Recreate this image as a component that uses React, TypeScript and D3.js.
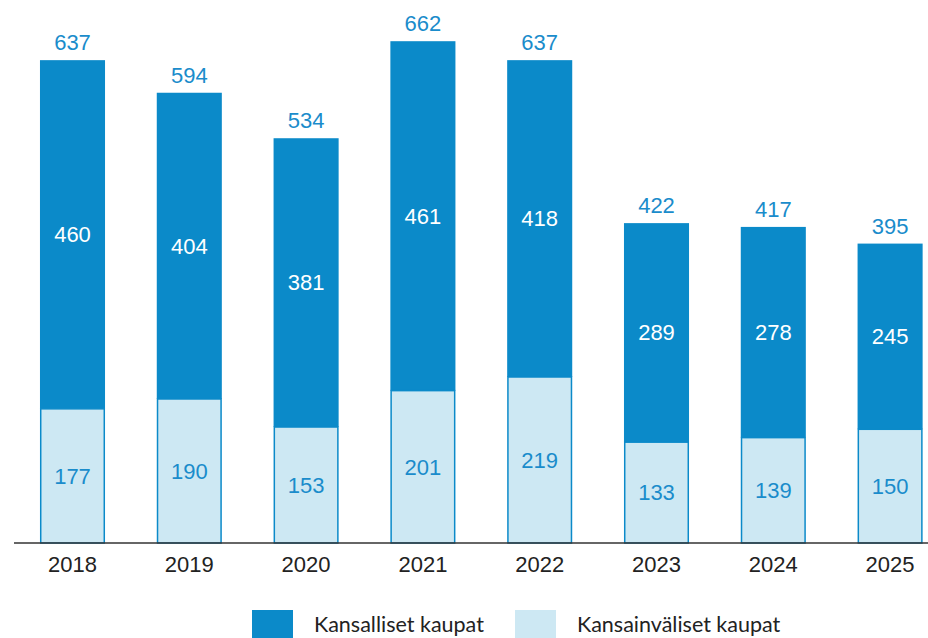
import React from 'react'
import { scaleBand, scaleLinear } from 'd3'

const years = ['2018', '2019', '2020', '2021', '2022', '2023', '2024', '2025']
const domestic = [460, 404, 381, 461, 418, 289, 278, 245]
const international = [177, 190, 153, 201, 219, 133, 139, 150]
const totals = [637, 594, 534, 662, 637, 422, 417, 395]
const legendLabels = ['Kansalliset kaupat', 'Kansainväliset kaupat']

const DARK = '#0b8ac9'
const LIGHT = '#cde8f3'
const LABEL = '#1a8ccb'

const App = () => {
  const width = 928
  const height = 638
  const baseY = 543

  const x = scaleBand()
    .domain(years)
    .range([14.1, 948.5])
    .paddingInner(0.443)
    .paddingOuter(0.2215)

  const y = scaleLinear().domain([0, 662]).range([baseY, baseY - 662 * 0.758])

  const labelFont = '"Liberation Sans", Arial, sans-serif'

  return (
    <svg
      width={width}
      height={height}
      style={{ position: 'absolute', left: 0, top: 0, background: '#fff' }}
    >
      {years.map((yr, i) => {
        const bx = x(yr) as number
        const bw = x.bandwidth()
        const cx = bx + bw / 2
        const intTop = y(international[i])
        const domTop = y(international[i] + domestic[i])
        return (
          <g key={yr}>
            <rect x={bx} y={domTop} width={bw} height={intTop - domTop} fill={DARK} />
            <rect
              x={bx + 0.75}
              y={intTop}
              width={bw - 1.5}
              height={baseY - intTop}
              fill={LIGHT}
              stroke={DARK}
              strokeWidth={1.5}
            />
            <text
              x={cx}
              y={(domTop + intTop) / 2}
              dy="0.35em"
              textAnchor="middle"
              fill="#fff"
              fontFamily={labelFont}
              fontSize={22}
            >
              {domestic[i]}
            </text>
            <text
              x={cx}
              y={(intTop + baseY) / 2}
              dy="0.35em"
              textAnchor="middle"
              fill={LABEL}
              fontFamily={labelFont}
              fontSize={22}
            >
              {international[i]}
            </text>
            <text
              x={cx}
              y={y(totals[i]) - 10}
              textAnchor="middle"
              fill={LABEL}
              fontFamily={labelFont}
              fontSize={22}
            >
              {totals[i]}
            </text>
            <text
              x={cx}
              y={572}
              textAnchor="middle"
              fill="#222"
              fontFamily={labelFont}
              fontSize={22}
            >
              {yr}
            </text>
          </g>
        )
      })}

      <line x1={14} x2={928} y1={baseY} y2={baseY} stroke="#333" strokeWidth={1.5} />

      {legendLabels.map((label, i) => {
        const lx = i === 0 ? 252 : 515
        return (
          <g key={label}>
            <rect x={lx} y={610} width={41} height={30} fill={i === 0 ? DARK : LIGHT} />
            <text
              x={lx + 62}
              y={632}
              fill="#222"
              fontFamily="Lato, 'Open Sans', sans-serif"
              fontSize={21.5}
            >
              {label}
            </text>
          </g>
        )
      })}
    </svg>
  )
}

export default App
